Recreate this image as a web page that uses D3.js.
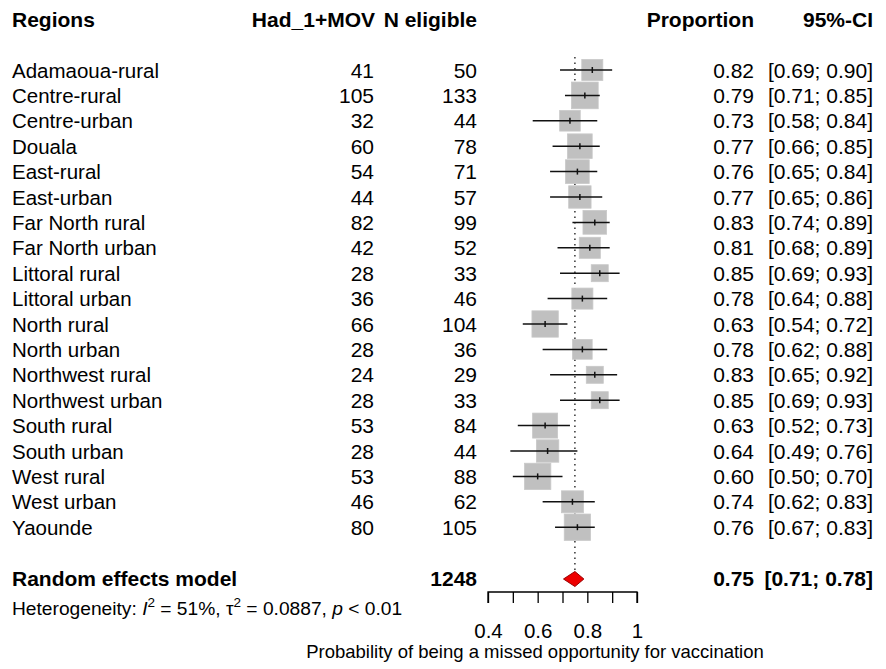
<!DOCTYPE html>
<html>
<head>
<meta charset="utf-8">
<script src="https://cdn.jsdelivr.net/npm/d3@7/dist/d3.min.js"></script>
<style>
  html, body { margin: 0; padding: 0; background: #fff; }
  svg { display: block; font-family: "Liberation Sans", Arial, sans-serif; }
</style>
</head>
<body>
<div id="chart"></div>
<script>
// ---- data ----
const regions = ["Adamaoua-rural","Centre-rural","Centre-urban","Douala","East-rural","East-urban",
  "Far North rural","Far North urban","Littoral rural","Littoral urban","North rural","North urban",
  "Northwest rural","Northwest urban","South rural","South urban","West rural","West urban","Yaounde"];
const events = [41,105,32,60,54,44,82,42,28,36,66,28,24,28,53,28,53,46,80];
const totals = [50,133,44,78,71,57,99,52,33,46,104,36,29,33,84,44,88,62,105];
const proportion = [0.82,0.79,0.73,0.77,0.76,0.77,0.83,0.81,0.85,0.78,0.63,0.78,0.83,0.85,0.63,0.64,0.60,0.74,0.76];
const lower = [0.69,0.71,0.58,0.66,0.65,0.65,0.74,0.68,0.69,0.64,0.54,0.62,0.65,0.69,0.52,0.49,0.50,0.62,0.67];
const upper = [0.90,0.85,0.84,0.85,0.84,0.86,0.89,0.89,0.93,0.88,0.72,0.88,0.92,0.93,0.73,0.76,0.70,0.83,0.83];
const weights = [4.6,7.4,4.4,6.3,5.8,5.2,5.8,4.6,3.0,4.6,7.2,4.0,3.0,3.0,6.5,5.2,7.2,5.0,7.2];
const pooled = {label: "Random effects model", total: 1248, est: 0.75, lo: 0.71, hi: 0.78};
const tickValues = [0.4,0.5,0.6,0.7,0.8,0.9,1.0];
const tickLabels = ["0.4","","0.6","","0.8","","1"];
const headers = {region: "Regions", events: "Had_1+MOV", total: "N eligible", prop: "Proportion", ci: "95%-CI"};
const axisTitle = "Probability of being a missed opportunity for vaccination";

// ---- layout ----
const W = 886, H = 669;
const fsLab = 20.5, fsNum = 21, fsHdr = 21;
const fmt = d3.format(".2f");
const svg = d3.select("#chart").append("svg").attr("width", W).attr("height", H);
svg.append("rect").attr("width", W).attr("height", H).attr("fill", "#fff");

const x = d3.scaleLinear().domain([0.4, 1.0]).range([488, 637]);
const y = d3.scalePoint().domain(d3.range(21)).range([70, 578]);
const side = d3.scaleSqrt().domain([0, d3.max(weights)]).range([0, 26.7]);

const colX = {region: 12, events: 375, total: 477, prop: 754, ci: 873};

// headers
const hdr = svg.append("g").attr("font-weight", "bold").attr("font-size", fsHdr);
hdr.append("text").attr("x", colX.region).attr("y", 27).text(headers.region);
hdr.append("text").attr("x", colX.events).attr("y", 27).attr("text-anchor", "end").text(headers.events);
hdr.append("text").attr("x", colX.total).attr("y", 27).attr("text-anchor", "end").text(headers.total);
hdr.append("text").attr("x", colX.prop).attr("y", 27).attr("text-anchor", "end").text(headers.prop);
hdr.append("text").attr("x", colX.ci).attr("y", 27).attr("text-anchor", "end").text(headers.ci);

// reference line at pooled estimate
svg.append("line")
  .attr("x1", x(pooled.est)).attr("x2", x(pooled.est))
  .attr("y1", 57).attr("y2", 571)
  .attr("stroke", "#000").attr("stroke-width", 1.2).attr("stroke-dasharray", "1.5,4");

const rows = svg.append("g").selectAll("g").data(regions).join("g")
  .attr("transform", (d, i) => `translate(0,${y(i)})`);

rows.append("text").attr("x", colX.region).attr("y", 7.5).attr("font-size", fsLab).text(d => d);
rows.append("text").attr("x", colX.events - 1).attr("y", 7.5).attr("font-size", fsNum)
  .attr("text-anchor", "end").text((d, i) => events[i]);
rows.append("text").attr("x", colX.total).attr("y", 7.5).attr("font-size", fsNum)
  .attr("text-anchor", "end").text((d, i) => totals[i]);
rows.append("text").attr("x", colX.prop).attr("y", 7.5).attr("font-size", fsNum)
  .attr("text-anchor", "end").text((d, i) => fmt(proportion[i]));
rows.append("text").attr("x", colX.ci).attr("y", 7.5).attr("font-size", fsNum)
  .attr("text-anchor", "end").text((d, i) => `[${fmt(lower[i])}; ${fmt(upper[i])}]`);

// squares
rows.append("rect")
  .attr("x", (d, i) => x(proportion[i]) - side(weights[i]) / 2)
  .attr("y", (d, i) => -side(weights[i]) / 2)
  .attr("width", (d, i) => side(weights[i]))
  .attr("height", (d, i) => side(weights[i]))
  .attr("fill", "#c0c0c0").attr("stroke", "#c8c8c8").attr("stroke-width", 0.8);
// CI lines
rows.append("line")
  .attr("x1", (d, i) => x(lower[i])).attr("x2", (d, i) => x(upper[i]))
  .attr("y1", 0).attr("y2", 0)
  .attr("stroke", "#111").attr("stroke-width", 1.5);
rows.append("line")
  .attr("x1", (d, i) => x(proportion[i])).attr("x2", (d, i) => x(proportion[i]))
  .attr("y1", -3).attr("y2", 3)
  .attr("stroke", "#111").attr("stroke-width", 1.5);

// pooled row
const py = y(20);
const pg = svg.append("g").attr("font-weight", "bold").attr("font-size", fsHdr);
pg.append("text").attr("x", colX.region).attr("y", py + 8).text(pooled.label);
pg.append("text").attr("x", colX.total).attr("y", py + 8).attr("text-anchor", "end").text(pooled.total);
pg.append("text").attr("x", colX.prop).attr("y", py + 8).attr("text-anchor", "end").text(fmt(pooled.est));
pg.append("text").attr("x", colX.ci).attr("y", py + 8).attr("text-anchor", "end")
  .text(`[${fmt(pooled.lo)}; ${fmt(pooled.hi)}]`);
svg.append("path")
  .attr("d", `M${x(pooled.lo) - 1.5},${py + 1} L${x(pooled.est)},${py - 6.5} L${x(pooled.hi) + 1.5},${py + 1} L${x(pooled.est)},${py + 8.5} Z`)
  .attr("fill", "#ee0000").attr("stroke", "#990000").attr("stroke-width", 1);

// heterogeneity
const het = svg.append("text").attr("x", colX.region).attr("y", 615).attr("font-size", 19.2);
het.append("tspan").text("Heterogeneity: ");
het.append("tspan").attr("font-style", "italic").text("I");
het.append("tspan").attr("font-size", 13.5).attr("dy", -8).text("2");
het.append("tspan").attr("dy", 8).text(" = 51%, \u03c4");
het.append("tspan").attr("font-size", 13.5).attr("dy", -8).text("2");
het.append("tspan").attr("dy", 8).text(" = 0.0887, ");
het.append("tspan").attr("font-style", "italic").text("p");
het.append("tspan").text(" < 0.01");

// axis
const axis = d3.axisBottom(x).tickValues(tickValues).tickSize(11)
  .tickFormat((d, i) => tickLabels[i]);
const ag = svg.append("g").attr("transform", "translate(0,592)").call(axis);
ag.select(".domain").attr("stroke", "#000").attr("stroke-width", 1.3).attr("d", `M${x(0.4)},11V0H${x(1)}V11`);
ag.selectAll(".tick line").attr("stroke", "#000").attr("stroke-width", 1.3);
ag.selectAll(".tick text").attr("font-size", 20.5).attr("font-family", "'Liberation Sans', Arial, sans-serif")
  .attr("fill", "#000").attr("y", 0).attr("dy", 0).attr("transform", "translate(0,46)");

svg.append("text").attr("x", 535).attr("y", 658).attr("text-anchor", "middle")
  .attr("font-size", 18.5).text(axisTitle);
</script>
</body>
</html>
